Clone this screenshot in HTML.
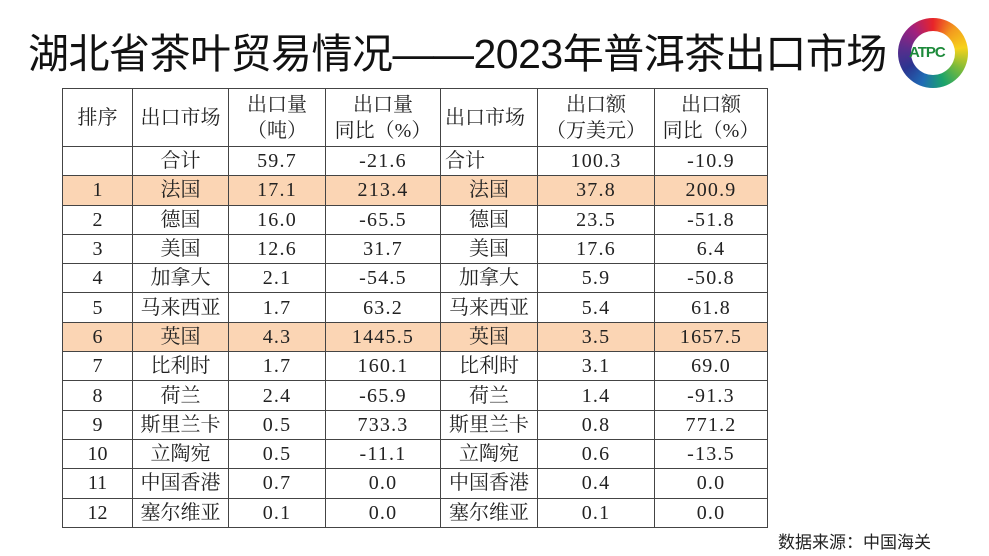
<!DOCTYPE html>
<html><head><meta charset="utf-8"><style>
body{margin:0;width:989px;height:556px;background:#fff;position:relative;overflow:hidden;font-family:"Liberation Serif","Noto Serif CJK SC",serif;}
.title{position:absolute;left:28px;top:26px;font-family:"Liberation Sans","Noto Sans CJK SC",sans-serif;font-size:41px;color:#111;white-space:nowrap;line-height:56px;letter-spacing:-0.5px}
table{position:absolute;left:62px;top:88px;border-collapse:collapse;font-size:20px;color:#222;table-layout:fixed;width:705px}
td{border:1.5px solid #444;text-align:center;padding:0;line-height:26px;white-space:nowrap}
td.n{letter-spacing:1.2px}
tr{height:29.3px}
tr.h{height:58px}
tr.o td{background:#fbd5b4}
.l{text-align:left;padding-left:4px}
.src{position:absolute;left:778px;top:528px;font-family:"Liberation Sans","Noto Sans CJK SC",sans-serif;font-size:17px;color:#222}
.logo{position:absolute;left:898px;top:18px;width:70px;height:70px;border-radius:50%;background:conic-gradient(#e8242a,#f39a1e,#f6d21b,#7dbb3a,#1aa36b,#1f6bb5,#2b3590,#5b2d8c,#a1207e,#e8242a)}
.logo:after{content:"";position:absolute;left:13px;top:13px;width:44px;height:44px;border-radius:50%;background:#fff}
.logo span{position:absolute;left:11px;top:26px;z-index:2;font:bold 15px "Liberation Sans",sans-serif;color:#1d8a3b;letter-spacing:-1px}
</style></head><body>
<div class="title">湖北省茶叶贸易情况——2023年普洱茶出口市场</div>
<div class="logo"><span>ATPC</span></div>
<table>
<colgroup><col style="width:70px"><col style="width:96px"><col style="width:97px"><col style="width:115px"><col style="width:97px"><col style="width:117px"><col style="width:113px"></colgroup>
<tr class="h"><td>排序</td><td>出口市场</td><td>出口量<br>（吨）</td><td>出口量<br>同比（%）</td><td class="l">出口市场</td><td>出口额<br>（万美元）</td><td>出口额<br>同比（%）</td></tr>
<tr><td></td><td>合计</td><td class="n">59.7</td><td class="n">-21.6</td><td class="l">合计</td><td class="n">100.3</td><td class="n">-10.9</td></tr>
<tr class="o"><td>1</td><td>法国</td><td class="n">17.1</td><td class="n">213.4</td><td>法国</td><td class="n">37.8</td><td class="n">200.9</td></tr>
<tr><td>2</td><td>德国</td><td class="n">16.0</td><td class="n">-65.5</td><td>德国</td><td class="n">23.5</td><td class="n">-51.8</td></tr>
<tr><td>3</td><td>美国</td><td class="n">12.6</td><td class="n">31.7</td><td>美国</td><td class="n">17.6</td><td class="n">6.4</td></tr>
<tr><td>4</td><td>加拿大</td><td class="n">2.1</td><td class="n">-54.5</td><td>加拿大</td><td class="n">5.9</td><td class="n">-50.8</td></tr>
<tr><td>5</td><td>马来西亚</td><td class="n">1.7</td><td class="n">63.2</td><td>马来西亚</td><td class="n">5.4</td><td class="n">61.8</td></tr>
<tr class="o"><td>6</td><td>英国</td><td class="n">4.3</td><td class="n">1445.5</td><td>英国</td><td class="n">3.5</td><td class="n">1657.5</td></tr>
<tr><td>7</td><td>比利时</td><td class="n">1.7</td><td class="n">160.1</td><td>比利时</td><td class="n">3.1</td><td class="n">69.0</td></tr>
<tr><td>8</td><td>荷兰</td><td class="n">2.4</td><td class="n">-65.9</td><td>荷兰</td><td class="n">1.4</td><td class="n">-91.3</td></tr>
<tr><td>9</td><td>斯里兰卡</td><td class="n">0.5</td><td class="n">733.3</td><td>斯里兰卡</td><td class="n">0.8</td><td class="n">771.2</td></tr>
<tr><td>10</td><td>立陶宛</td><td class="n">0.5</td><td class="n">-11.1</td><td>立陶宛</td><td class="n">0.6</td><td class="n">-13.5</td></tr>
<tr><td>11</td><td>中国香港</td><td class="n">0.7</td><td class="n">0.0</td><td>中国香港</td><td class="n">0.4</td><td class="n">0.0</td></tr>
<tr><td>12</td><td>塞尔维亚</td><td class="n">0.1</td><td class="n">0.0</td><td>塞尔维亚</td><td class="n">0.1</td><td class="n">0.0</td></tr>
</table>
<div class="src">数据来源：中国海关</div>
</body></html>
